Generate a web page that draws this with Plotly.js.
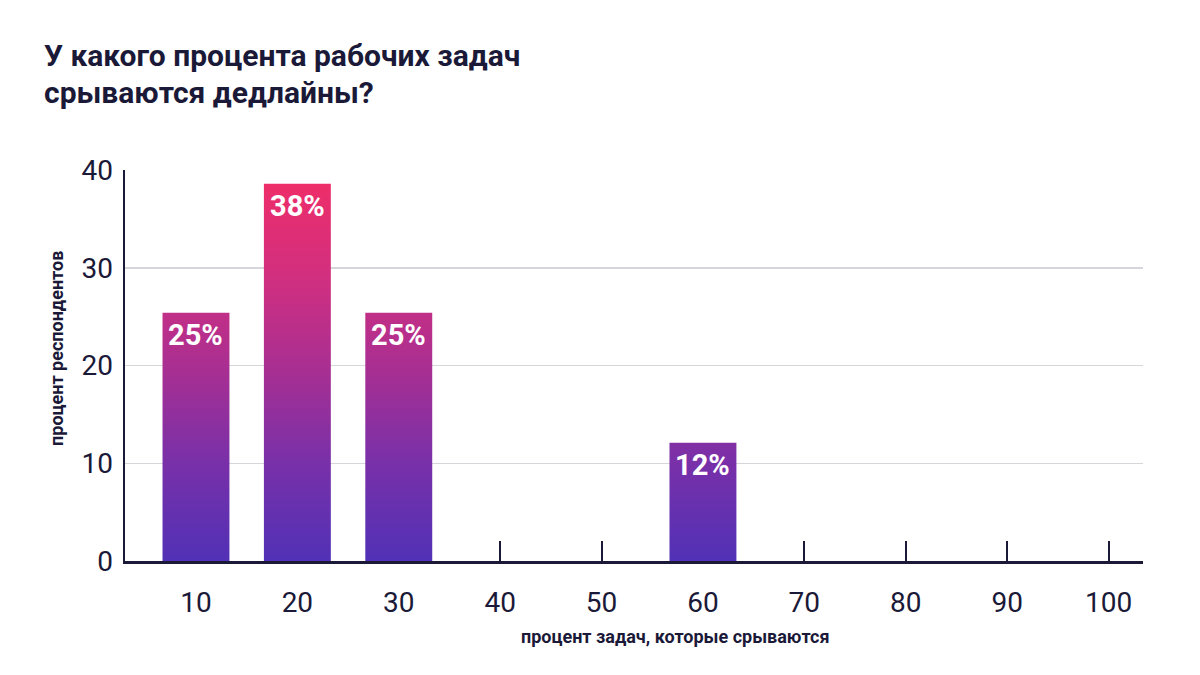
<!DOCTYPE html>
<html>
<head>
<meta charset="utf-8">
<script src="https://cdn.plot.ly/plotly-3.0.1.min.js"></script>
<style>html,body{margin:0;padding:0;background:#fff;}#chart{width:1200px;height:675px;}</style>
</head>
<body>
<div id="chart"></div>
<script>
// ---- data ----
var categories = ['10', '20', '30', '40', '50', '60', '70', '80', '90', '100'];
var values = [25.4, 38.6, 25.4, 0, 0, 12.1, 0, 0, 0, 0];
var barLabels = ['25%', '38%', '25%', '', '', '12%', '', '', '', ''];
var yTicks = [0, 10, 20, 30, 40];
var yGrid = [10, 20, 30];
var titleLines = ['У какого процента рабочих задач', 'срываются дедлайны?'];
var xTitle = 'процент задач, которые срываются';
var yTitle = 'процент респондентов';

var ink = '#1b1938';
var fontFam = 'Roboto, "Noto Sans", sans-serif';

var annotations = [];
categories.forEach(function (c, i) {
  if (barLabels[i]) {
    annotations.push({
      x: i, y: values[i], xref: 'x', yref: 'y',
      text: barLabels[i], showarrow: false,
      xanchor: 'center', yanchor: 'top', yshift: -3,
      font: {family: fontFam, size: 29, color: '#ffffff', weight: 700}
    });
  }
});
annotations.push({
  xref: 'paper', yref: 'paper', x: -0.0815, y: 1.292, xanchor: 'left', yanchor: 'middle',
  text: titleLines[0], showarrow: false,
  font: {family: fontFam, size: 30, color: ink, weight: 700}
});
annotations.push({
  xref: 'paper', yref: 'paper', x: -0.0815, y: 1.197, xanchor: 'left', yanchor: 'middle',
  text: titleLines[1], showarrow: false,
  font: {family: fontFam, size: 30, color: ink, weight: 700}
});
annotations.push({
  xref: 'paper', yref: 'paper', x: 0.541, y: -0.194, xanchor: 'center', yanchor: 'middle',
  text: xTitle, showarrow: false,
  font: {family: fontFam, size: 18, color: ink, weight: 700}
});
annotations.push({
  xref: 'paper', yref: 'paper', x: -0.0668, y: 0.545, xanchor: 'center', yanchor: 'middle',
  text: yTitle, showarrow: false, textangle: -90,
  font: {family: fontFam, size: 18, color: ink, weight: 700}
});

var trace = {
  type: 'bar',
  x: categories,
  y: values,
  marker: {color: '#a02f92', line: {width: 0}},
  hoverinfo: 'none'
};

var layout = {
  width: 1200, height: 675,
  margin: {l: 125, r: 57, t: 170, b: 114},
  paper_bgcolor: '#ffffff', plot_bgcolor: '#ffffff',
  font: {family: fontFam, color: ink},
  showlegend: false,
  bargap: 0.34,
  xaxis: {
    type: 'category',
    range: [-0.7, 9.34],
    showline: true, linecolor: ink, linewidth: 2.5,
    ticks: 'inside', ticklen: 20, tickwidth: 2, tickcolor: ink,
    layer: 'below traces',
    showgrid: false, zeroline: false,
    tickfont: {family: fontFam, size: 28, color: ink},
    ticklabelstandoff: 15
  },
  yaxis: {
    range: [0, 40],
    tickvals: yTicks,
    showline: true, linecolor: ink, linewidth: 2.5,
    ticks: '', showgrid: false, zeroline: false,
    layer: 'below traces',
    minor: {tickvals: yGrid, showgrid: true, gridcolor: '#d6d6da', gridwidth: 1.5, ticks: ''},
    tickfont: {family: fontFam, size: 28, color: ink},
    ticklabelstandoff: 4
  },
  annotations: annotations
};

Plotly.newPlot('chart', [trace], layout, {displayModeBar: false, staticPlot: true}).then(function (gd) {
  var svg = gd.querySelector('svg.main-svg');
  var h = gd._fullLayout._size.h;
  var ns = 'http://www.w3.org/2000/svg';
  var defs = svg.querySelector('defs') || svg.insertBefore(document.createElementNS(ns, 'defs'), svg.firstChild);
  var grad = document.createElementNS(ns, 'linearGradient');
  grad.setAttribute('id', 'barGrad');
  grad.setAttribute('gradientUnits', 'userSpaceOnUse');
  grad.setAttribute('x1', '0'); grad.setAttribute('x2', '0');
  grad.setAttribute('y1', '0'); grad.setAttribute('y2', String(h));
  [[0, '#f22d66'], [0.28, '#d02f80'], [0.51, '#a82f92'], [0.74, '#7a30a8'], [1, '#5131b6']].forEach(function (s) {
    var st = document.createElementNS(ns, 'stop');
    st.setAttribute('offset', s[0]);
    st.setAttribute('stop-color', s[1]);
    grad.appendChild(st);
  });
  defs.appendChild(grad);
  gd.querySelectorAll('.barlayer .point path').forEach(function (p) {
    p.style.fill = 'url(#barGrad)';
  });
});
</script>
</body>
</html>
